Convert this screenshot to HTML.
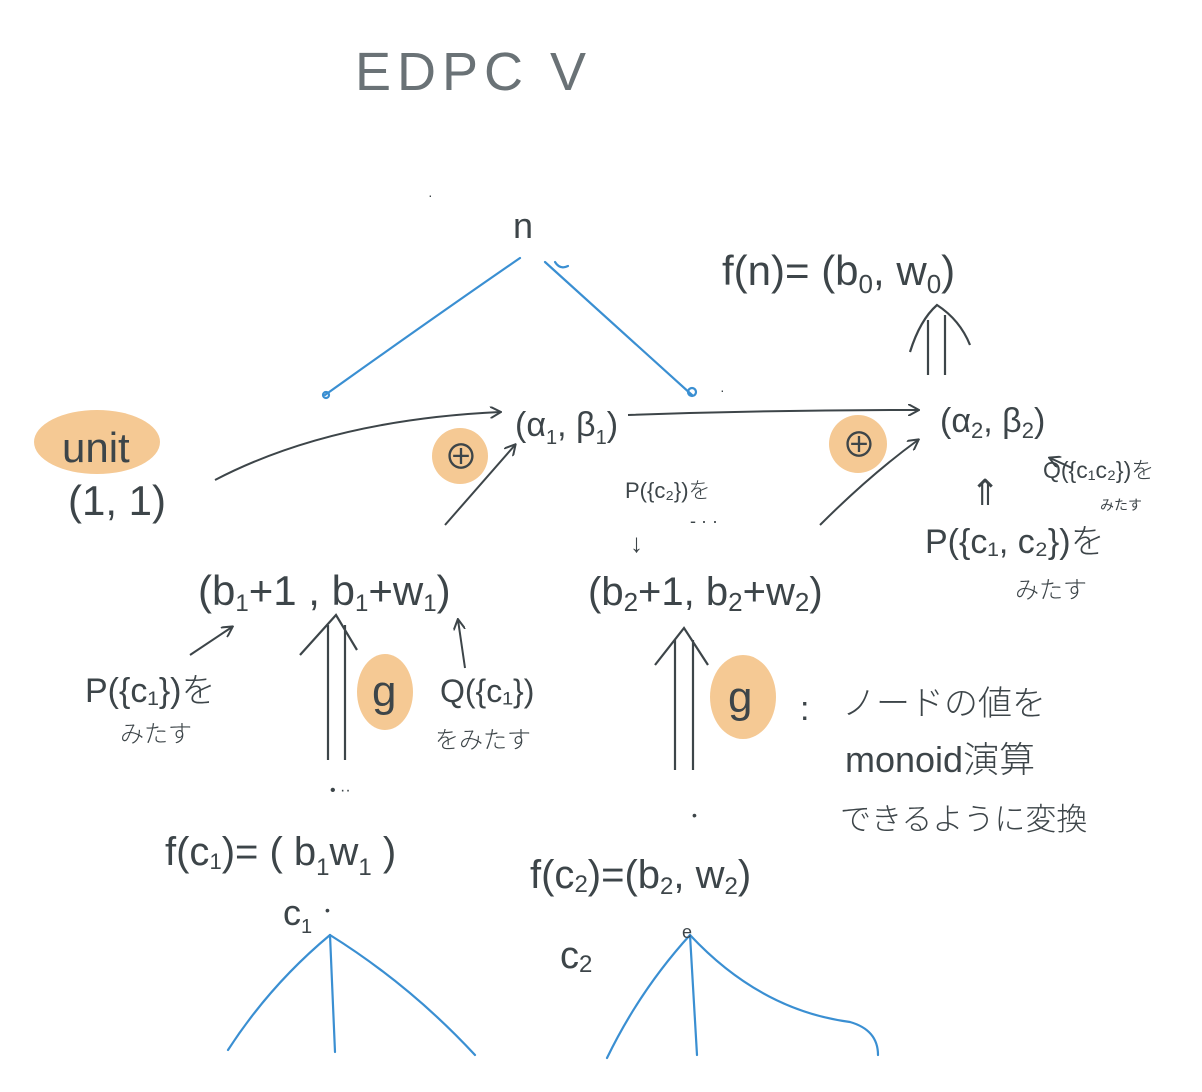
<!DOCTYPE html>
<html><head><meta charset="utf-8"><style>
html,body{margin:0;padding:0;background:#fff;}
svg{display:block}
text{font-family:"Liberation Sans","Noto Sans CJK JP",sans-serif;fill:#3d4549;}
</style></head><body>
<svg width="1202" height="1092" viewBox="0 0 1202 1092" xmlns="http://www.w3.org/2000/svg">
<defs>
<marker id="ah" markerWidth="12" markerHeight="12" refX="10" refY="6" orient="auto" markerUnits="userSpaceOnUse">
<path d="M0,0 L11,6 L0,12" fill="none" stroke="#3d4549" stroke-width="2"/></marker>
</defs>
<g fill="#f5c994">
<ellipse cx="97" cy="442" rx="63" ry="32"/>
<circle cx="460" cy="456" r="28"/>
<circle cx="858" cy="444" r="29"/>
<ellipse cx="385" cy="692" rx="28" ry="38"/>
<ellipse cx="743" cy="697" rx="33" ry="42"/>
</g>
<text x="355" y="90" font-size="54" font-weight="300" letter-spacing="6" style="fill:#6a7276">EDPC V</text>
<text x="428" y="200" font-size="14">·</text>
<text x="513" y="238" font-size="36">n</text>
<g stroke="#3a8fd2" stroke-width="2.2" fill="none" stroke-linecap="round">
<path d="M520,258 Q430,320 325,395"/><circle cx="326" cy="395" r="3"/>
<path d="M545,262 Q620,330 692,395"/><circle cx="692" cy="392" r="4"/>
<path d="M555,262 Q560,270 568,266"/>
<path d="M330,935 Q270,985 228,1050"/>
<path d="M330,935 L335,1052"/>
<path d="M330,935 Q410,985 475,1055"/>
<path d="M690,935 Q640,990 607,1058"/>
<path d="M690,935 L697,1055"/>
<path d="M690,935 Q760,1010 850,1022 Q878,1030 878,1055"/>
</g>
<text x="720" y="395" font-size="14">·</text>
<text x="722" y="285" font-size="42" font-weight="300">f(n)= (b<tspan font-size="26" dy="8">0</tspan><tspan dy="-8">, w</tspan><tspan font-size="26" dy="8">0</tspan><tspan dy="-8">)</tspan></text>
<g stroke="#3d4549" stroke-width="2.2" fill="none">
<path d="M928,375 L928,320 M945,375 L945,315 M910,352 Q920,320 937,305 Q960,320 970,345"/>
</g>
<text x="62" y="462" font-size="42" font-weight="300">unit</text>
<text x="68" y="515" font-size="42" font-weight="300">(1, 1)</text>
<text x="515" y="436" font-size="34" font-weight="300">(α<tspan font-size="20" dy="8">1</tspan><tspan dy="-8">, β</tspan><tspan font-size="20" dy="8">1</tspan><tspan dy="-8">)</tspan></text>
<text x="940" y="432" font-size="34" font-weight="300">(α<tspan font-size="22" dy="6">2</tspan><tspan dy="-6">, β</tspan><tspan font-size="22" dy="6">2</tspan><tspan dy="-6">)</tspan></text>
<text x="444" y="469" font-size="34">⊕</text>
<text x="842" y="457" font-size="34">⊕</text>
<g stroke="#3d4549" stroke-width="2" fill="none" marker-end="url(#ah)">
<path d="M215,480 Q330,420 500,412"/>
<path d="M628,415 Q770,410 918,410"/>
<path d="M445,525 L515,445"/>
<path d="M820,525 Q870,475 918,440"/>
<path d="M190,655 L232,627"/>
<path d="M465,668 L458,620"/>
<path d="M1072,468 L1050,458"/>
</g>
<text x="625" y="498" font-size="22" font-weight="300">P({c₂})を</text>
<text x="630" y="552" font-size="26" font-weight="300">↓</text>
<text x="690" y="527" font-size="18">- · ·</text>
<text x="1043" y="478" font-size="23" font-weight="300">Q({c₁c₂})を</text>
<text x="1100" y="510" font-size="14">みたす</text>
<text x="970" y="505" font-size="36" font-weight="300">⇑</text>
<text x="925" y="553" font-size="34" font-weight="300">P({c₁, c₂})を</text>
<text x="1015" y="598" font-size="24" font-weight="300">みたす</text>
<text x="198" y="605" font-size="42" font-weight="300">(b<tspan font-size="24" dy="6">1</tspan><tspan dy="-6">+1 , b</tspan><tspan font-size="24" dy="6">1</tspan><tspan dy="-6">+w</tspan><tspan font-size="24" dy="6">1</tspan><tspan dy="-6">)</tspan></text>
<text x="588" y="605" font-size="40" font-weight="300">(b<tspan font-size="26" dy="6">2</tspan><tspan dy="-6">+1, b</tspan><tspan font-size="26" dy="6">2</tspan><tspan dy="-6">+w</tspan><tspan font-size="26" dy="6">2</tspan><tspan dy="-6">)</tspan></text>
<text x="85" y="702" font-size="34" font-weight="300">P({c₁})を</text>
<text x="120" y="742" font-size="24" font-weight="300">みたす</text>
<text x="440" y="702" font-size="32" font-weight="300">Q({c₁})</text>
<text x="435" y="748" font-size="24" font-weight="300">をみたす</text>
<g stroke="#3d4549" stroke-width="2.2" fill="none">
<path d="M328,760 L328,625 M345,760 L345,625 M300,655 L336,615 L357,650"/>
<path d="M675,770 L675,640 M693,770 L693,640 M655,665 L684,628 L708,665"/>
</g>
<text x="372" y="706" font-size="44" font-weight="300">g</text>
<text x="728" y="712" font-size="44" font-weight="300">g</text>
<text x="800" y="720" font-size="34">:</text>
<text x="842" y="715" font-size="34" font-weight="300">ノードの値を</text>
<text x="845" y="772" font-size="36" font-weight="300">monoid演算</text>
<text x="840" y="830" font-size="31" font-weight="300">できるように変換</text>
<text x="330" y="795" font-size="16">• ··</text>
<text x="692" y="820" font-size="14">•</text>
<text x="165" y="865" font-size="40" font-weight="300">f(c<tspan font-size="22" dy="4">1</tspan><tspan dy="-4">)= ( b</tspan><tspan font-size="24" dy="10">1</tspan><tspan dy="-10">w</tspan><tspan font-size="24" dy="10">1</tspan><tspan dy="-10"> )</tspan></text>
<text x="530" y="888" font-size="40" font-weight="300">f(c<tspan font-size="24" dy="4">2</tspan><tspan dy="-4">)=(b</tspan><tspan font-size="24" dy="6">2</tspan><tspan dy="-6">, w</tspan><tspan font-size="24" dy="6">2</tspan><tspan dy="-6">)</tspan></text>
<text x="283" y="925" font-size="36" font-weight="300">c<tspan font-size="20" dy="8">1</tspan></text>
<text x="325" y="915" font-size="14">•</text>
<text x="560" y="968" font-size="38" font-weight="300">c<tspan font-size="24" dy="4">2</tspan></text>
<text x="682" y="938" font-size="18">e</text>
</svg>
</body></html>
